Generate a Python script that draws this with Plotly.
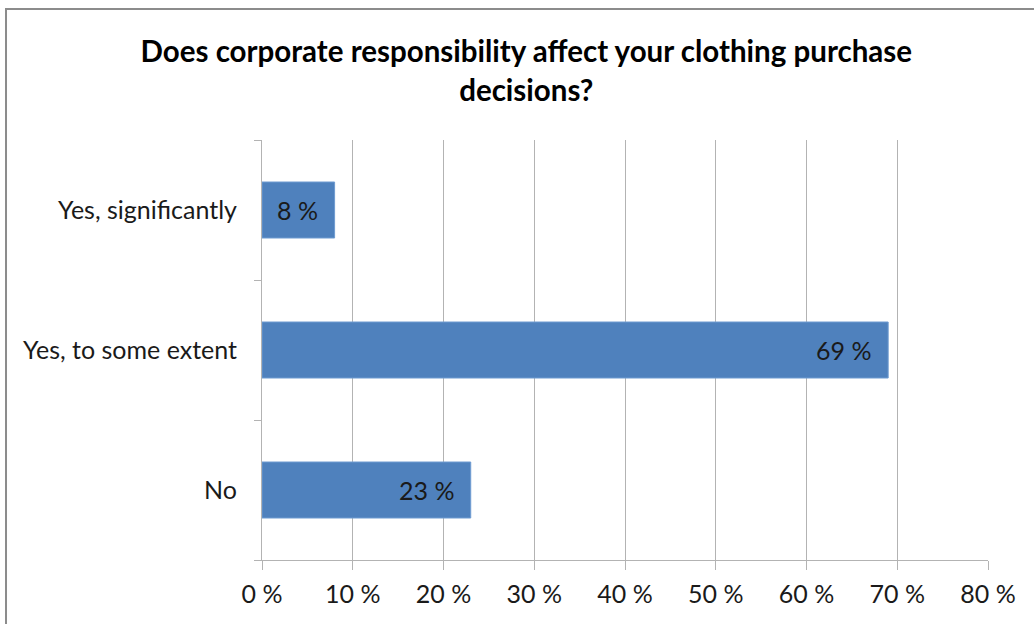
import plotly.graph_objects as go

# Survey answers, listed bottom-to-top as they appear on the axis
categories = ["No", "Yes, to some extent", "Yes, significantly"]
shares = [23, 69, 8]
tick_vals = [0, 10, 20, 30, 40, 50, 60, 70, 80]
tick_text = ["0 %", "10 %", "20 %", "30 %", "40 %", "50 %", "60 %", "70 %", "80 %"]
title_text = "Does corporate responsibility affect your clothing purchase<br>decisions?"

FONT = "Lato"
GRID = "#b3b3b3"
BAR = "#4f81bd"
LABEL_SIZE = 25

fig = go.Figure(
    go.Bar(
        x=shares,
        y=categories,
        orientation="h",
        marker=dict(color=BAR, line=dict(color="#6f9bd1", width=1)),
        hoverinfo="skip",
    )
)

# value labels sit just inside the end of each bar
for cat, val in zip(categories, shares):
    fig.add_annotation(
        x=val, y=cat, text=f"{val} %", showarrow=False,
        xanchor="right", xshift=-15,
        font=dict(family=FONT, size=LABEL_SIZE, color="#1a1a1a"),
    )

# outer chart frame
fig.add_shape(
    type="rect", xref="paper", yref="paper",
    x0=-0.3526, x1=1.2, y0=-0.3, y1=1.312,
    line=dict(color="#8c8c8c", width=2), fillcolor="rgba(0,0,0,0)",
    layer="below",
)

fig.update_layout(
    width=1034, height=624,
    margin=dict(l=262, r=46, t=140, b=64),
    paper_bgcolor="white", plot_bgcolor="white",
    bargap=0.6,
    showlegend=False,
    title=dict(
        text=title_text, x=0.509, xref="container", xanchor="center",
        y=0.9, yref="container", yanchor="middle",
        font=dict(family=FONT, size=29.5, color="#000000", weight="bold"),
    ),
    font=dict(family=FONT, size=LABEL_SIZE, color="#1a1a1a"),
)

fig.update_xaxes(
    range=[0, 80], tickvals=tick_vals, ticktext=tick_text,
    showgrid=True, gridcolor=GRID, gridwidth=1,
    showline=True, linecolor=GRID, linewidth=1,
    ticks="outside", ticklen=9, tickcolor=GRID,
    ticklabelstandoff=3,
    zeroline=False, fixedrange=True,
)
fig.update_yaxes(
    type="category", tickson="boundaries",
    showgrid=False, showline=True, linecolor=GRID, linewidth=1,
    ticks="outside", ticklen=7, tickcolor=GRID,
    ticklabelstandoff=19, fixedrange=True,
)

fig.write_html("out.html")
